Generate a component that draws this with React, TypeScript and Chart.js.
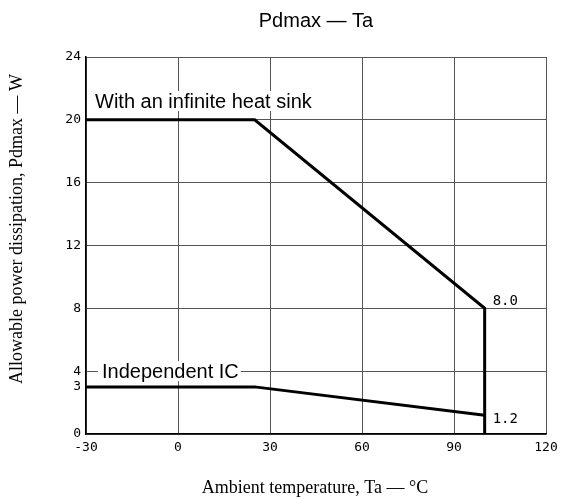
import React, { useEffect, useRef } from "react";
import { Chart, registerables } from "chart.js";

Chart.register(...registerables);

const title = "Pdmax — Ta";
const xTitle = "Ambient temperature, Ta — °C";
const yTitle = "Allowable power dissipation, Pdmax — W";

const xTicks = [-30, 0, 30, 60, 90, 120];
const yTicks = [0, 3, 4, 8, 12, 16, 20, 24];

const heatSinkTa = [-30, 25, 100, 100];
const heatSinkP = [20, 20, 8, 0];
const icTa = [-30, 25, 100];
const icP = [3, 3, 1.2];

const heatSinkLabel = "With an infinite heat sink";
const icLabel = "Independent IC";
const endLabels = [
  { x: 100, y: 8, text: "8.0", dy: -7 },
  { x: 100, y: 1.2, text: "1.2", dy: 4 },
];

const W = 564;
const H = 499;
const MONO = '"DejaVu Sans Mono", "Liberation Mono", monospace';

const textPlugin = {
  id: "texts",
  afterDatasetsDraw(chart: any) {
    const { ctx, chartArea, scales } = chart;
    const xs = scales.x;
    const ys = scales.y;
    ctx.save();
    const boxLabel = (text: string, xv: number, yv: number, dx: number) => {
      ctx.font = '20px "Liberation Sans", Arial, sans-serif';
      const w = ctx.measureText(text).width;
      const px = xs.getPixelForValue(xv) + dx;
      const py = ys.getPixelForValue(yv);
      ctx.fillStyle = "#fff";
      ctx.fillRect(px - 4, py - 10, w + 6, 20);
      ctx.fillStyle = "#000";
      ctx.textAlign = "left";
      ctx.textBaseline = "alphabetic";
      ctx.fillText(text, px, py + 7);
    };
    boxLabel(heatSinkLabel, -30, 21.2, 9);
    boxLabel(icLabel, -30, 4, 16);

    ctx.font = "14px " + MONO;
    ctx.fillStyle = "#000";
    ctx.textAlign = "left";
    ctx.textBaseline = "middle";
    for (const l of endLabels) {
      ctx.fillText(l.text, xs.getPixelForValue(l.x) + 8, ys.getPixelForValue(l.y) + l.dy);
    }

    ctx.font = '20px "Liberation Sans", Arial, sans-serif';
    ctx.textAlign = "center";
    ctx.textBaseline = "middle";
    ctx.fillText(title, (chartArea.left + chartArea.right) / 2, 21);

    ctx.font = '18px "Liberation Serif", "Times New Roman", serif';
    ctx.fillText(xTitle, 315, 488);
    ctx.translate(17, 229);
    ctx.rotate(-Math.PI / 2);
    ctx.fillText(yTitle, 0, 0);
    ctx.restore();
  },
};

export default function App() {
  const ref = useRef<HTMLCanvasElement | null>(null);
  useEffect(() => {
    if (!ref.current) return;
    const chart = new Chart(ref.current, {
      type: "scatter",
      data: {
        datasets: [
          {
            data: heatSinkTa.map((x, i) => ({ x, y: heatSinkP[i] })),
            showLine: true,
            borderColor: "#000",
            borderWidth: 3,
            pointRadius: 0,
            fill: false,
          },
          {
            data: icTa.map((x, i) => ({ x, y: icP[i] })),
            showLine: true,
            borderColor: "#000",
            borderWidth: 3,
            pointRadius: 0,
            fill: false,
          },
        ],
      },
      options: {
        animation: false,
        responsive: false,
        devicePixelRatio: 1,
        layout: { padding: { left: 0, top: 57, right: 18, bottom: 35 } },
        plugins: {
          legend: { display: false },
          tooltip: { enabled: false },
          title: { display: false },
        },
        scales: {
          x: {
            type: "linear",
            min: -30,
            max: 120,
            afterBuildTicks: (s: any) => {
              s.ticks = xTicks.map((v) => ({ value: v }));
            },
            afterFit: (s: any) => {
              s.height = 30;
            },
            ticks: {
              padding: 6,
              color: "#000",
              font: { family: MONO, size: 13 },
              maxRotation: 0,
              callback: (v: any) => String(v),
            },
            grid: { color: "#555", lineWidth: 1, drawTicks: false },
            border: { display: true, color: "#000", width: 1.5 },
          },
          y: {
            type: "linear",
            min: 0,
            max: 24,
            afterBuildTicks: (s: any) => {
              s.ticks = yTicks.map((v) => ({ value: v }));
            },
            afterFit: (s: any) => {
              s.width = 86;
            },
            ticks: {
              padding: 5,
              color: "#000",
              font: { family: MONO, size: 13 },
              callback: (v: any) => String(v),
            },
            grid: {
              color: (c: any) => (c.tick && c.tick.value === 3 ? "rgba(0,0,0,0)" : "#555"),
              lineWidth: 1,
              drawTicks: false,
            },
            border: { display: true, color: "#000", width: 1.5 },
          },
        },
      },
      plugins: [textPlugin],
    } as any);
    return () => chart.destroy();
  }, []);
  return (
    <div style={{ position: "absolute", left: 0, top: 0, width: W, height: H, background: "#fff" }}>
      <canvas ref={ref} width={W} height={H} style={{ width: W, height: H, display: "block" }} />
    </div>
  );
}
